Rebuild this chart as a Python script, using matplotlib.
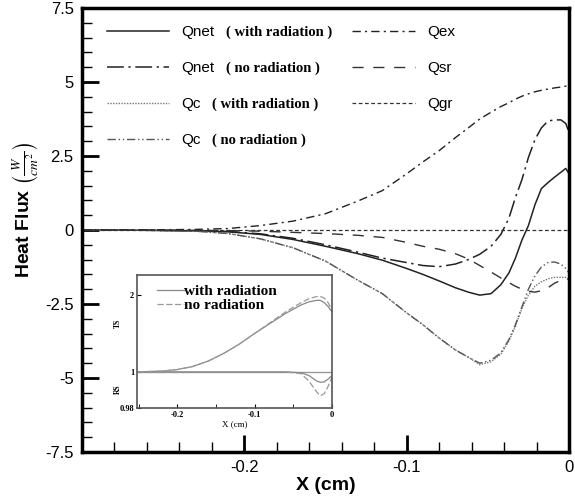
import numpy as np
import matplotlib
matplotlib.use('Agg')
import matplotlib.pyplot as plt

plt.rcParams['mathtext.fontset'] = 'stix'

# main plot data (x in cm, heat flux in W/cm^2)
x = [-0.30, -0.26, -0.23, -0.21, -0.19, -0.17, -0.15, -0.13, -0.115, -0.10,
     -0.09, -0.08, -0.07, -0.062, -0.055, -0.048, -0.042, -0.037, -0.033,
     -0.029, -0.025, -0.021, -0.017, -0.013, -0.009, -0.005, -0.002, 0.0]

qnet_rad = [0, -0.01, -0.03, -0.06, -0.15, -0.32, -0.55, -0.8, -1.02, -1.3,
            -1.5, -1.72, -1.95, -2.1, -2.2, -2.15, -1.85, -1.45, -0.95,
            -0.34, 0.15, 0.85, 1.4, 1.6, 1.78, 1.95, 2.08, 1.9]
qnet_norad = [0, -0.01, -0.02, -0.05, -0.13, -0.28, -0.5, -0.75, -0.95, -1.1,
              -1.2, -1.24, -1.15, -1.0, -0.82, -0.55, -0.15, 0.4, 1.1,
              1.7, 2.45, 3.05, 3.45, 3.68, 3.72, 3.72, 3.6, 3.3]
qc_rad = [0, -0.01, -0.04, -0.12, -0.3, -0.6, -1.05, -1.7, -2.15, -2.8,
          -3.2, -3.65, -4.05, -4.3, -4.55, -4.45, -4.2, -3.75, -3.25,
          -2.65, -2.2, -1.9, -1.75, -1.65, -1.6, -1.6, -1.6, -1.7]
qc_norad = [0, -0.01, -0.04, -0.12, -0.3, -0.6, -1.05, -1.7, -2.15, -2.8,
            -3.2, -3.65, -4.05, -4.3, -4.5, -4.4, -4.15, -3.7, -3.2,
            -2.6, -2.0, -1.55, -1.25, -1.1, -1.08, -1.15, -1.3, -1.45]
qex = [0, 0.005, 0.02, 0.05, 0.15, 0.3, 0.55, 0.98, 1.33, 1.9,
       2.3, 2.68, 3.12, 3.45, 3.75, 3.98, 4.17, 4.3, 4.42,
       4.52, 4.6, 4.67, 4.72, 4.76, 4.8, 4.83, 4.86, 4.88]
qsr = [0, 0, -0.01, -0.02, -0.04, -0.08, -0.12, -0.18, -0.25, -0.42,
       -0.55, -0.65, -0.8, -0.98, -1.2, -1.42, -1.62, -1.78, -1.9,
       -2.0, -2.07, -2.1, -2.05, -1.95, -1.8, -1.7, -1.65, -1.65]
qgr = [0] * len(x)

# inset data
xi = [-0.25, -0.22, -0.2, -0.18, -0.16, -0.14, -0.12, -0.1, -0.08, -0.06,
      -0.04, -0.03, -0.02, -0.015, -0.01, -0.005, 0.0]
ts_rad = [1.0, 1.01, 1.03, 1.07, 1.14, 1.24, 1.36, 1.5, 1.63, 1.76,
          1.87, 1.91, 1.93, 1.93, 1.9, 1.85, 1.78]
ts_norad = [1.0, 1.01, 1.03, 1.07, 1.14, 1.24, 1.36, 1.5, 1.64, 1.78,
            1.9, 1.95, 1.98, 1.98, 1.96, 1.9, 1.8]
rs_rad = [1.0, 1.0, 1.0, 1.0, 1.0, 1.0, 1.0, 1.0, 1.0, 1.0,
          0.9995, 0.998, 0.995, 0.9942, 0.9945, 0.996, 0.998]
rs_norad = [1.0, 1.0, 1.0, 1.0, 1.0, 1.0, 1.0, 1.0, 1.0, 1.0,
            0.999, 0.995, 0.989, 0.9868, 0.988, 0.992, 0.997]

fig = plt.figure(figsize=(5.75, 4.98), dpi=100)
ax = fig.add_axes([82 / 575, 1 - 452 / 498, 487 / 575, 444 / 498])

series = [
    (qnet_rad, 'Qnet', '( with radiation )', '-', '#222222', 1.1),
    (qnet_norad, 'Qnet', '( no radiation )', (0, (11, 3, 1.5, 3)), '#222222', 1.1),
    (qc_rad, 'Qc', '( with radiation )', (0, (1, 1)), '#777777', 1.0),
    (qc_norad, 'Qc', '( no radiation )', (0, (6, 2, 1, 2, 1, 2)), '#555555', 1.0),
    (qex, 'Qex', None, (0, (6, 3, 1.5, 3)), '#222222', 1.0),
    (qsr, 'Qsr', None, (0, (8, 7)), '#333333', 1.0),
    (qgr, 'Qgr', None, (0, (3, 2)), '#333333', 0.9),
]
for y, lab, _, ls, col, lw in series:
    ax.plot(x, y, linestyle=ls, color=col, lw=lw, label=lab)

ax.set_xlim(-0.3, 0)
ax.set_ylim(-7.5, 7.5)
ax.set_xticks([-0.2, -0.1, 0])
ax.set_xticklabels(['-0.2', '-0.1', '0'])
ax.set_xticks(np.arange(-0.28, 0.0, 0.02), minor=True)
ax.set_yticks([-7.5, -5, -2.5, 0, 2.5, 5, 7.5])
ax.set_yticklabels(['-7.5', '-5', '-2.5', '0', '2.5', '5', '7.5'])
ax.set_yticks(np.arange(-7.0, 7.5, 0.5), minor=True)
ax.tick_params(which='major', direction='in', length=12, width=2,
               labelsize=12, pad=6)
ax.tick_params(which='minor', direction='in', length=7, width=1)
ax.tick_params(top=False, right=False, which='both')
for lab in ax.get_xticklabels() + ax.get_yticklabels():
    lab.set_family('Liberation Sans')
for s in ax.spines.values():
    s.set_linewidth(2.5)

ax.set_xlabel('X (cm)', fontsize=14, fontweight='bold', family='Liberation Sans',
              labelpad=1)
ax.set_ylabel(r'Heat Flux $\left(\frac{W}{cm^2}\right)$', fontsize=14,
              fontweight='bold', family='Liberation Sans')
ax.yaxis.set_label_coords(-0.085, 0.545)

leg = ax.legend(loc='upper left', bbox_to_anchor=(0.051, 0.962), ncol=2,
                frameon=False, borderpad=0, borderaxespad=0,
                handlelength=4.1, handletextpad=0.8, labelspacing=1.45,
                columnspacing=9.0,
                prop={'family': 'Liberation Sans', 'size': 11})
# serif qualifiers next to the legend labels (drawn after the legend)
for t, (_, _, extra, _, _, _) in zip(leg.get_texts(), series):
    if extra:
        ax.annotate(extra, xy=(1, 0.5), xycoords=t, xytext=(8, 0),
                    textcoords='offset points', va='center', ha='left',
                    family='Liberation Serif', fontweight='bold', fontsize=10.5,
                    zorder=6)

# inset
k = (1 - 0.53) / (1 - 0.98)


def fwd(v):
    v = np.asarray(v, dtype=float)
    return np.where(v >= 1, v, 1 - (1 - v) * k)


def inv(v):
    v = np.asarray(v, dtype=float)
    return np.where(v >= 1, v, 1 - (1 - v) / k)


axi = fig.add_axes([137 / 575, 1 - 408 / 498, 195 / 575, 133 / 498])
axi.set_yscale('function', functions=(fwd, inv))
axi.axhline(1, color='#999999', lw=1.0)
axi.plot(xi, ts_rad, color='#888888', lw=0.9, label='with radiation')
axi.plot(xi, ts_norad, color='#999999', lw=0.9, ls=(0, (5, 2)), label='no radiation')
axi.plot(xi, rs_rad, color='#888888', lw=0.9)
axi.plot(xi, rs_norad, color='#999999', lw=0.9, ls=(0, (5, 2)))
axi.set_xlim(-0.252, 0)
axi.set_ylim(0.98, 2.26)
axi.set_xticks([-0.2, -0.1, 0])
axi.set_xticklabels(['-0.2', '-0.1', '0'])
axi.set_xticks([-0.25, -0.15, -0.05], minor=True)
axi.set_yticks([0.98, 1, 2])
axi.set_yticklabels(['0.98', '1', '2'])
axi.yaxis.set_minor_locator(matplotlib.ticker.NullLocator())
axi.tick_params(which='both', direction='in', labelsize=6, pad=2, length=3)
for lab in axi.get_xticklabels() + axi.get_yticklabels():
    lab.set_family('Liberation Serif')
    lab.set_fontweight('bold')
for s in axi.spines.values():
    s.set_linewidth(1.2)
    s.set_color('#555555')
axi.set_xlabel('X (cm)', fontsize=6.5, family='Liberation Serif', labelpad=1)
axi.text(-0.1, 0.64, 'TS', transform=axi.transAxes, rotation=90, fontsize=5.5,
         family='Liberation Serif', fontweight='bold', ha='center', va='center')
axi.text(-0.1, 0.14, 'RS', transform=axi.transAxes, rotation=90, fontsize=5.5,
         family='Liberation Serif', fontweight='bold', ha='center', va='center')
axi.legend(loc='upper left', bbox_to_anchor=(0.1, 0.93), frameon=False,
           borderpad=0, borderaxespad=0, handlelength=1.8, handletextpad=0.0,
           labelspacing=0.05,
           prop={'family': 'Liberation Serif', 'weight': 'bold', 'size': 11})

fig.savefig('out.png', dpi=100)
